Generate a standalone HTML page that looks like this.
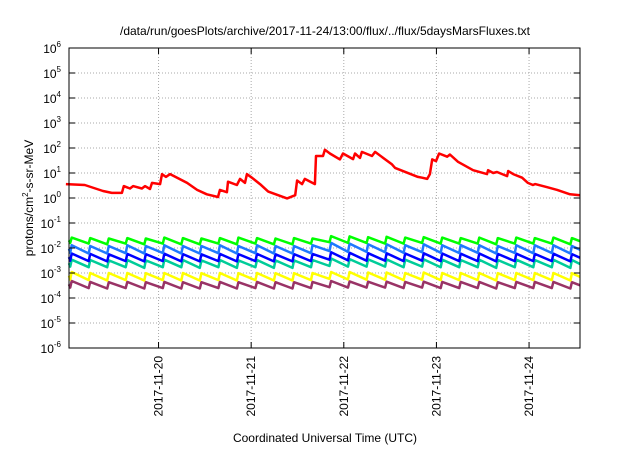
<!DOCTYPE html>
<html><head><meta charset="utf-8"><style>
body{margin:0;background:#fff;font-family:"Liberation Sans",sans-serif;}
svg text{font-family:"Liberation Sans",sans-serif;fill:#000;}
</style></head><body>
<svg id="chart" width="640" height="448" xmlns="http://www.w3.org/2000/svg">
<text x="325" y="35" text-anchor="middle" font-size="12">/data/run/goesPlots/archive/2017-11-24/13:00/flux/../flux/5daysMarsFluxes.txt</text>
<text x="325" y="442" text-anchor="middle" font-size="12">Coordinated Universal Time (UTC)</text>
<text transform="translate(33,198) rotate(-90)" text-anchor="middle" font-size="12">protons/cm<tspan font-size="8" dy="-5">2</tspan><tspan dy="5">-s-sr-MeV</tspan></text>
<g id="grid"></g><g id="series"></g><g id="axes"></g>
</svg>
<script>
const xDomain=[0.8,133.2];
const yExp=[-6,6];
const xTickHours=[24,48,72,96,120];
const xTickLabels=["2017-11-20","2017-11-21","2017-11-22","2017-11-23","2017-11-24"];
const redHours=[0,4.9,9.6,11.9,14.5,15.0,16.6,17.4,19.7,20.5,21.8,22.3,24.4,24.9,25.9,27.0,31.4,34.0,36.5,39.4,39.9,41.7,42.0,44.3,45.1,46.4,46.9,48.2,50.3,52.4,57.3,59.4,59.9,61.2,61.9,64.5,64.8,66.6,67.1,68.4,71.0,71.8,74.4,74.9,76.2,76.7,79.3,80.1,84.5,85.3,91.2,92.3,93.6,94.3,94.9,95.9,96.7,98.8,99.5,101.6,105.5,109.1,109.4,110.7,111.7,114.3,114.6,115.9,118.2,119.7,121.0,121.6,124.7,127.3,130.6,133.2];
const redValues=[3.6,3.3,1.9,1.6,1.6,3.0,2.4,3.0,2.4,3.0,2.3,4.0,3.6,9,7,9,4,2.1,1.4,1.1,2.1,1.7,4.5,3.3,5.8,4,9,6.5,3.6,1.8,0.96,1.3,5,3.6,5.8,3.6,48,48,85,60,35,60,36,60,40,70,48,70,22,16,7,6.5,5.8,9,35,30,60,45,55,28,13,9,13,10,11,7.5,12,9,6.5,4,3.3,3.6,2.7,2.1,1.4,1.3];
const cycleHours=[1.5,6.3,11.1,15.9,20.7,25.5,30.3,35.1,39.9,44.7,49.5,54.3,59.1,63.9,68.7,73.5,78.3,83.1,87.9,92.7,97.5,102.3,107.1,111.9,116.7,121.5,126.3,131.1];
const greenPeaks=[0.026,0.025,0.024,0.025,0.024,0.026,0.025,0.024,0.025,0.026,0.025,0.024,0.025,0.024,0.030,0.029,0.027,0.028,0.026,0.027,0.026,0.025,0.026,0.025,0.026,0.025,0.026,0.025];
const greenTroughs=[0.016,0.015,0.014,0.015,0.014,0.015,0.014,0.014,0.015,0.014,0.015,0.014,0.014,0.015,0.017,0.016,0.016,0.015,0.015,0.016,0.015,0.015,0.015,0.014,0.015,0.015,0.015,0.014];
const azurePeaks=[0.013,0.012,0.012,0.013,0.012,0.013,0.012,0.012,0.013,0.012,0.013,0.012,0.012,0.013,0.016,0.015,0.014,0.014,0.013,0.014,0.013,0.013,0.013,0.012,0.013,0.013,0.013,0.012];
const azureTroughs=[0.0065,0.006,0.006,0.0062,0.006,0.0063,0.006,0.006,0.0062,0.006,0.0062,0.006,0.006,0.0062,0.0075,0.007,0.007,0.0068,0.0065,0.0068,0.0065,0.0063,0.0064,0.006,0.0063,0.0062,0.0063,0.006];
const bluePeaks=[0.0060,0.0058,0.0056,0.0058,0.0057,0.0059,0.0057,0.0056,0.0058,0.0057,0.0058,0.0056,0.0057,0.0058,0.0068,0.0064,0.0062,0.0062,0.006,0.0062,0.006,0.0059,0.006,0.0058,0.0059,0.0058,0.0059,0.0057];
const blueTroughs=[0.0031,0.003,0.0029,0.003,0.0029,0.003,0.0029,0.0029,0.003,0.0029,0.003,0.0029,0.0029,0.003,0.0034,0.0032,0.0031,0.0031,0.003,0.0031,0.003,0.003,0.003,0.0029,0.003,0.003,0.003,0.0029];
const tealPeaks=[0.0034,0.0033,0.0032,0.0033,0.0032,0.0034,0.0033,0.0032,0.0033,0.0032,0.0033,0.0032,0.0032,0.0033,0.0038,0.0036,0.0035,0.0035,0.0034,0.0035,0.0034,0.0033,0.0034,0.0033,0.0034,0.0033,0.0034,0.0033];
const tealTroughs=[0.0018,0.0017,0.0017,0.0017,0.0016,0.0017,0.0017,0.0016,0.0017,0.0016,0.0017,0.0016,0.0016,0.0017,0.0019,0.0018,0.0018,0.0018,0.0017,0.0018,0.0017,0.0017,0.0017,0.0016,0.0017,0.0017,0.0017,0.0016];
const yellowPeaks=[0.0011,0.001,0.001,0.001,0.00098,0.001,0.001,0.00098,0.001,0.00098,0.001,0.00098,0.00098,0.001,0.0011,0.0011,0.00105,0.00105,0.001,0.00105,0.001,0.001,0.001,0.00098,0.001,0.001,0.001,0.00098];
const yellowTroughs=[0.00055,0.00052,0.0005,0.00052,0.0005,0.00052,0.0005,0.0005,0.00052,0.0005,0.00052,0.0005,0.0005,0.00052,0.00058,0.00055,0.00054,0.00054,0.00052,0.00054,0.00052,0.00052,0.00052,0.0005,0.00052,0.00052,0.00052,0.0005];
const purplePeaks=[0.00048,0.00044,0.00043,0.00044,0.00043,0.00044,0.00043,0.00043,0.00044,0.00043,0.00044,0.00043,0.00043,0.00044,0.00048,0.00046,0.00045,0.00045,0.00044,0.00045,0.00044,0.00044,0.00044,0.00043,0.00044,0.00044,0.00044,0.00043];
const purpleTroughs=[0.00026,0.00025,0.00024,0.00025,0.00024,0.00025,0.00024,0.00024,0.00025,0.00024,0.00025,0.00024,0.00024,0.00025,0.00027,0.00026,0.00026,0.00026,0.00025,0.00026,0.00025,0.00025,0.00025,0.00024,0.00025,0.00025,0.00025,0.00024];

const L=69,R=580,T=48,B=348;
const NS="http://www.w3.org/2000/svg";
const xS=h=>L+(h-xDomain[0])/(xDomain[1]-xDomain[0])*(R-L);
const yS=v=>B-(Math.log10(v)-yExp[0])/(yExp[1]-yExp[0])*(B-T);
function mk(tag,attrs,parent){const e=document.createElementNS(NS,tag);for(const k in attrs)e.setAttribute(k,attrs[k]);parent.appendChild(e);return e;}
const grid=document.getElementById('grid'),axes=document.getElementById('axes'),ser=document.getElementById('series');
for(let e=yExp[0];e<=yExp[1];e++){
  const y=yS(Math.pow(10,e));
  if(e>yExp[0]&&e<yExp[1]){const g=mk('line',{x1:L,x2:R,y1:y,y2:y,stroke:'#aaa','stroke-dasharray':'1,2','stroke-width':1},grid);
  
  }
  const tk=mk('line',{x1:L,x2:L+6,y1:y,y2:y,stroke:'#000'},axes);
  
  
  const tk2=mk('line',{x1:R,x2:R-6,y1:y,y2:y,stroke:'#000'},axes);
  
  
  const t=mk('text',{x:L-8,y:y+5,'text-anchor':'end','font-size':12},axes);
  
  
  t.innerHTML='10<tspan font-size="8" dy="-6">'+e+'</tspan>';
}
xTickHours.forEach((h,i)=>{
  const x=xS(h);
  const g=mk('line',{x1:x,x2:x,y1:T,y2:B,stroke:'#aaa','stroke-dasharray':'1,2'},grid);
  
  
  const tk=mk('line',{x1:x,x2:x,y1:B,y2:B-6,stroke:'#000'},axes);
  
  
  const tk2=mk('line',{x1:x,x2:x,y1:T,y2:T+6,stroke:'#000'},axes);
  
  
  const t=mk('text',{transform:`translate(${x+4},${B+8}) rotate(-90)`,'text-anchor':'end','font-size':12},axes);
  
  
  t.textContent=xTickLabels[i];
});
const fr=mk('rect',{x:L,y:T,width:R-L,height:B-T,fill:'none',stroke:'#000','stroke-width':1},axes);


function line(hs,vs,color,name){
  const pts=hs.map((h,i)=>xS(h).toFixed(1)+','+yS(vs[i]).toFixed(1)).join(' ');
  const p=mk('polyline',{points:pts,fill:'none',stroke:color,'stroke-width':2.5,'stroke-linejoin':'round'},ser);
  
  
}
function saw(peaks,troughs,color,name){
  const hs=[xDomain[0]],vs=[Math.sqrt(peaks[0]*troughs[0])];
  cycleHours.forEach((h,i)=>{
    hs.push(Math.max(xDomain[0],h-0.4));vs.push(troughs[i]);
    hs.push(h);vs.push(peaks[i]);
  });
  hs.push(xDomain[1]);vs.push(Math.sqrt(peaks[peaks.length-1]*troughs[troughs.length-1]));
  line(hs,vs,color,name);
}
saw(purplePeaks,purpleTroughs,'#993366','series-purple');
saw(yellowPeaks,yellowTroughs,'#ffff00','series-yellow');
saw(tealPeaks,tealTroughs,'#00cc99','series-teal');
saw(bluePeaks,blueTroughs,'#0000ff','series-blue');
saw(azurePeaks,azureTroughs,'#1e78ff','series-azure');
saw(greenPeaks,greenTroughs,'#00ff00','series-green');
line(redHours,redValues,'#ff0000','series-red');
</script>
</body></html>
